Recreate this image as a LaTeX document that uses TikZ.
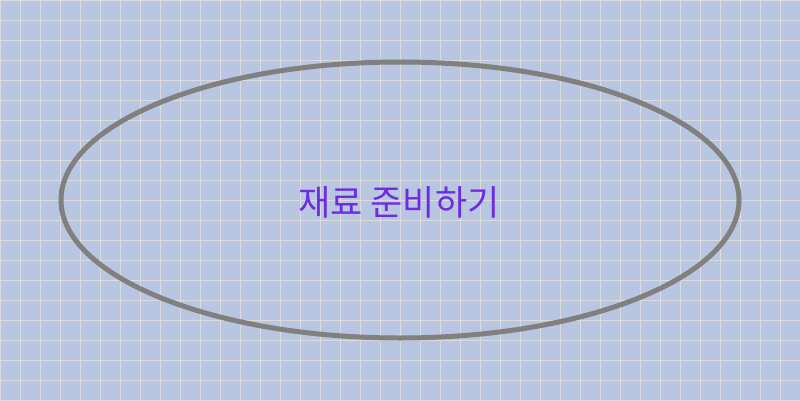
\documentclass[tikz,border=0pt]{standalone}
\usepackage{fontspec}
\newfontfamily\cjk{Noto Sans CJK KR}
\usetikzlibrary{shapes.geometric}
\definecolor{bgc}{RGB}{184,198,226}
\definecolor{gridc}{RGB}{220,220,222}
\definecolor{edgec}{RGB}{128,128,128}
\definecolor{txtc}{RGB}{108,44,228}
\tikzset{
  oval/.style={ellipse, draw=edgec, line width=5pt, minimum width=678pt, minimum height=276pt, inner sep=0pt},
  label text/.style={font=\cjk\fontsize{35}{40}\selectfont, text=txtc}
}
\begin{document}
\begin{tikzpicture}[x=1pt,y=1pt]
\useasboundingbox (0,0) rectangle (800,400);
\fill[bgc] (0,0) rectangle (800,400);
\draw[gridc, line width=1pt, shift={(0.5,-0.5)}] (0,0) grid[step=20pt] (800,400);
\node[oval] (e) at (400,200) {};
\node[label text] (t) at (399,198) {재료 준비하기};
\end{tikzpicture}
\end{document}
